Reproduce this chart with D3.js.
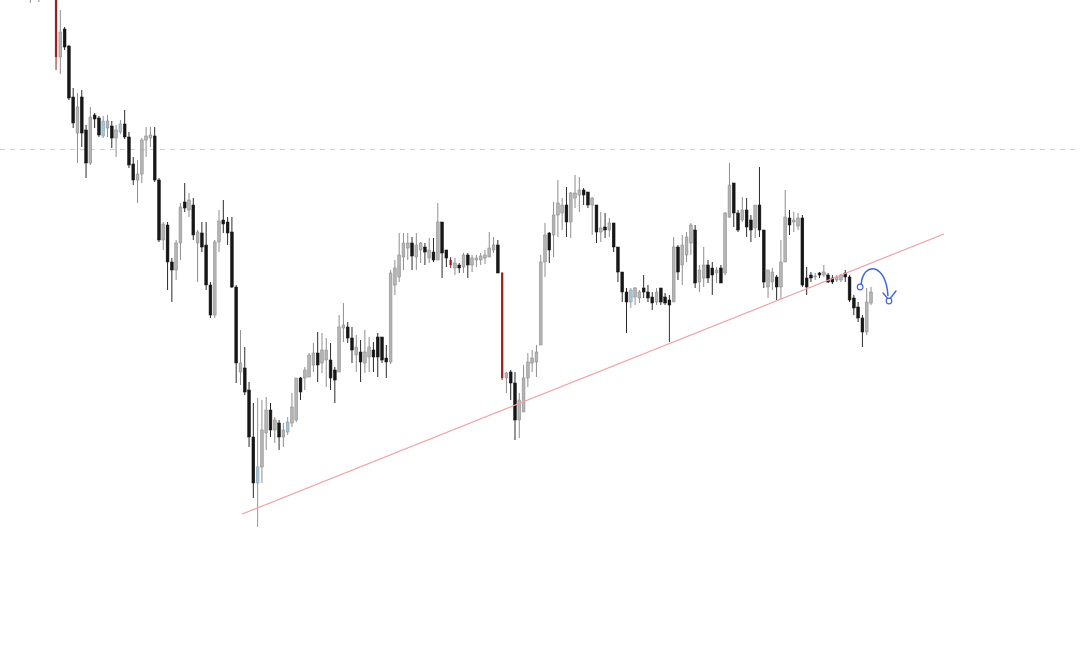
<!DOCTYPE html>
<html>
<head>
<meta charset="utf-8">
<script src="https://cdn.jsdelivr.net/npm/d3@7"></script>
<style>
  html, body { margin: 0; padding: 0; background: #ffffff; }
  svg { display: block; }
</style>
</head>
<body>
<svg id="chart" width="1080" height="654"></svg>
<script>
// ---- Data (price in chart points) ----
const openVals = [
  1020,1030,1015,1025,1035,1020,
  1008,943,971,954,903,867,903,870,837,885,
  882,864,872,874,862,868,876,863,836,820,
  826,860,862,864,820,760,775,738,730,757,
  798,790,795,757,767,755,715,685,758,780,
  778,768,713,628,632,610,563,517,533,567,
  590,570,577,563,568,577,580,622,622,623,
  635,647,637,640,640,630,628,672,673,662,
  645,648,637,643,650,663,663,642,638,715,
  723,743,752,757,743,750,753,742,748,740,
  778,750,740,732,735,733,745,735,740,740,
  742,743,750,755,727,622,628,617,580,588,
  622,637,638,655,738,767,765,785,787,795,
  778,802,805,810,808,795,795,768,773,770,
  777,753,728,708,698,703,702,712,708,703,
  698,712,703,700,698,753,735,745,757,770,
  718,722,735,732,727,732,727,783,817,787,
  780,790,780,772,795,770,713,718,723,713,
  738,782,778,774,782,722,725,723,727,725,
  725,722,720,720,727,723,702,693,682,668,697
];
const highVals = [
  1040,1045,1040,1050,1055,1040,
  1012,990,973,955,912,907,910,875,893,887,
  884,884,885,879,875,880,890,868,843,840,
  862,873,873,873,822,778,778,742,760,797,
  817,807,802,770,778,778,718,760,790,800,
  783,783,715,670,653,618,597,602,600,603,
  597,583,580,577,583,607,622,623,633,647,
  657,668,667,662,657,633,685,697,678,673,
  665,660,670,663,658,667,663,655,730,740,
  767,767,767,763,767,758,757,762,762,797,
  778,750,743,742,737,747,747,745,745,747,
  750,768,763,760,728,628,630,628,607,635,
  647,650,655,745,777,768,798,820,802,813,
  808,825,823,812,808,803,795,788,787,782,
  777,753,728,712,712,713,710,725,715,708,
  712,712,707,705,763,755,765,768,777,775,
  735,753,740,738,733,735,788,837,817,790,
  803,802,785,795,833,770,730,732,725,760,
  810,790,788,787,785,733,728,727,728,735,
  727,725,725,726,730,725,705,698,685,712,713
];
const lowVals = [
  997,1005,998,1008,1010,1004,
  930,926,950,900,872,837,853,822,835,872,
  863,862,863,852,843,866,861,832,815,797,
  817,843,853,818,758,750,710,698,720,740,
  788,783,760,718,748,710,682,682,748,767,
  755,712,617,615,605,553,502,473,517,550,
  563,557,550,553,565,573,578,600,610,623,
  628,618,627,613,610,597,628,658,657,637,
  628,618,627,628,628,623,637,622,636,705,
  718,730,740,730,730,737,735,737,738,740,
  722,733,732,725,727,727,722,728,733,735,
  736,743,747,727,620,607,600,560,562,588,
  613,628,623,655,723,737,743,763,770,763,
  762,792,788,795,792,765,757,758,762,763,
  748,718,698,667,692,695,697,702,698,690,
  695,695,695,658,698,720,715,738,745,712,
  708,713,717,705,717,717,725,782,773,768,
  778,763,758,762,763,712,702,710,700,700,
  738,765,768,770,713,705,718,720,722,723,
  717,716,718,718,718,698,685,678,653,665,695
];
const closeVals = [
  1030,1015,1025,1035,1020,1008,
  943,968,953,902,877,893,867,837,883,881,
  865,879,879,862,870,876,863,835,820,826,
  860,864,865,820,760,776,738,730,757,793,
  792,800,765,768,753,715,685,758,779,776,
  767,713,637,637,608,563,517,533,570,590,
  570,580,563,570,578,593,622,608,630,645,
  647,635,650,650,622,620,673,675,662,650,
  653,638,648,653,643,643,640,638,727,732,
  745,757,757,744,755,757,748,750,740,778,
  747,742,735,737,732,745,735,742,742,744,
  745,752,755,727,622,627,617,580,600,622,
  638,642,648,738,765,750,785,797,795,778,
  807,807,810,805,795,802,768,772,770,777,
  753,728,708,698,710,712,708,708,702,697,
  708,698,697,695,753,728,755,763,775,717,
  730,735,722,725,730,717,787,815,787,770,
  790,773,770,795,770,718,730,728,713,738,
  783,775,780,782,715,713,722,724,725,728,
  718,718,723,725,723,700,692,682,668,698,708
];
// candles drawn in dark red / blue tint (by index)
const redCandles = [6, 98, 110];
const blueCandles = [17, 21, 53, 60, 140];
// dashed horizontal level
const levelPrice = 851;
// trend line (index, price)
const trendIdx = [49.4, 213.0];
const trendPrice = [486, 766];
// curved arrow annotation (index, price)
const arrowIdx = [193.7, 194.2, 199.5, 199.96];
const arrowPrice = [716, 738, 738, 704];

// ---- Chart ----
const W = 1080, H = 654;
const N = openVals.length;
const svg = d3.select("#chart");

const x = d3.scaleLinear().domain([0, N - 1]).range([30.3, 871]);
const y = d3.scaleLinear().domain([1000, 346]).range([0, H]);

const data = d3.range(N).map(i => ({
  i, o: openVals[i], h: highVals[i], l: lowVals[i], c: closeVals[i]
}));

const defs = svg.append("defs");
defs.append("filter").attr("id", "soft")
  .append("feGaussianBlur").attr("stdDeviation", 0.35);

// dashed level line
svg.append("line")
  .attr("x1", 0).attr("x2", W)
  .attr("y1", Math.round(y(levelPrice)) + 0.5)
  .attr("y2", Math.round(y(levelPrice)) + 0.5)
  .attr("stroke", "#cfcfcf").attr("stroke-width", 1)
  .attr("stroke-dasharray", "5,5");

const bw = 2.8;
function isRed(d) { return redCandles.includes(d.i); }
function colors(d) {
  if (isRed(d)) return { wick: "#9a1c1c", fill: "#9a1c1c", stroke: "#9a1c1c" };
  if (blueCandles.includes(d.i)) return { wick: "#8d9aa3", fill: "#a8c3d3", stroke: "#7c9cb0" };
  if (d.c >= d.o) return { wick: "#8e8e8e", fill: "#b4b4b4", stroke: "#888888" };
  return { wick: "#2c2c2c", fill: "#141414", stroke: "#141414" };
}

const g = svg.append("g").attr("filter", "url(#soft)");
const candle = g.selectAll("g.candle").data(data).join("g").attr("class", "candle");

candle.append("line")
  .attr("x1", d => x(d.i)).attr("x2", d => x(d.i))
  .attr("y1", d => y(Math.max(d.h, d.o, d.c)))
  .attr("y2", d => y(Math.min(d.l, d.o, d.c)))
  .attr("stroke", d => colors(d).wick)
  .attr("stroke-width", 1);

candle.append("rect")
  .attr("x", d => x(d.i) - (isRed(d) ? 1 : bw / 2))
  .attr("width", d => isRed(d) ? 2 : bw)
  .attr("y", d => y(Math.max(d.o, d.c)))
  .attr("height", d => Math.max(1, Math.abs(y(d.o) - y(d.c))))
  .attr("fill", d => colors(d).fill)
  .attr("stroke", d => colors(d).stroke)
  .attr("stroke-width", d => isRed(d) ? 0.2 : 0.5);

// trend line
svg.append("line")
  .attr("x1", x(trendIdx[0])).attr("y1", y(trendPrice[0]))
  .attr("x2", x(trendIdx[1])).attr("y2", y(trendPrice[1]))
  .attr("stroke", "#f0a0a4").attr("stroke-width", 1.2);

// curved arrow
const blue = "#4169d8";
const ap = d3.path();
ap.moveTo(x(arrowIdx[0]), y(arrowPrice[0]));
ap.bezierCurveTo(x(arrowIdx[1]), y(arrowPrice[1]), x(arrowIdx[2]), y(arrowPrice[2]), x(arrowIdx[3]), y(arrowPrice[3]));
svg.append("path").attr("d", ap.toString())
  .attr("fill", "none").attr("stroke", blue).attr("stroke-width", 1.5);

const ex = x(arrowIdx[3]), ey = y(arrowPrice[3]);
const head = d3.path();
head.moveTo(ex - 5, ey - 3); head.lineTo(ex + 1, ey + 4); head.lineTo(ex + 8, ey - 5);
svg.append("path").attr("d", head.toString())
  .attr("fill", "none").attr("stroke", blue).attr("stroke-width", 1.4)
  .attr("stroke-linecap", "round").attr("stroke-linejoin", "round");

svg.append("circle").attr("cx", x(arrowIdx[0]) - 1).attr("cy", y(arrowPrice[0]) + 3).attr("r", 2.8)
  .attr("fill", "#fff").attr("stroke", blue).attr("stroke-width", 1.2);
svg.append("circle").attr("cx", ex + 1).attr("cy", ey + 5).attr("r", 2.8)
  .attr("fill", "#fff").attr("stroke", blue).attr("stroke-width", 1.2);
</script>
</body>
</html>
